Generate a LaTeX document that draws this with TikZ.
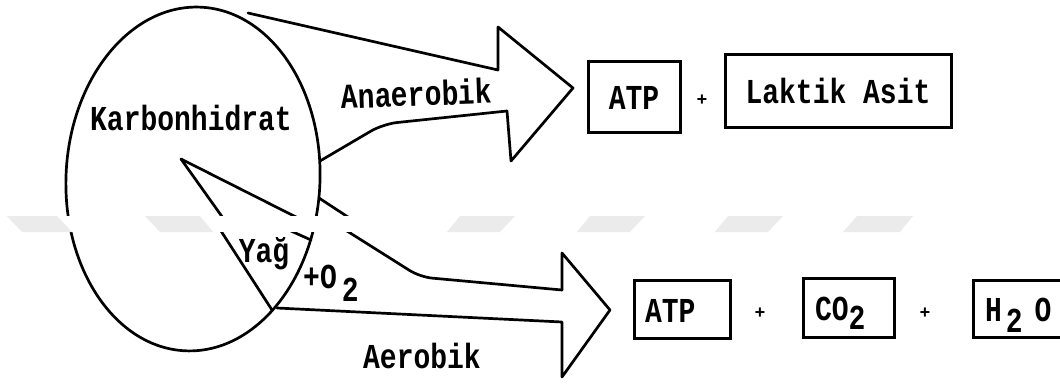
\documentclass[tikz,border=0pt]{standalone}
\usepackage{fontspec}
\usepackage{graphicx}
\setmonofont{Liberation Mono}
\newcommand{\talltxt}[1]{\scalebox{1}[1.25]{#1}}
\begin{document}
\begin{tikzpicture}[x=1pt,y=-1pt,
  ln/.style={line width=2.7pt, line join=round, line cap=round},
  lbl/.style={font=\ttfamily\bfseries\fontsize{28}{30}\selectfont, inner sep=0pt},
  pbox/.style={draw, line width=3pt, font=\ttfamily\bfseries\fontsize{28}{30}\selectfont,
               text height=26pt, text depth=0pt, inner ysep=0pt},
  plusnode/.style={font=\ttfamily\bfseries\fontsize{18}{20}\selectfont, inner sep=0pt},
  wm/.style={fill=black!8}
]
\clip (0,0) rectangle (1060,383);
\fill[white] (0,0) rectangle (1060,383);

% Karbonhidrat oval
\coordinate (ec) at (193,179);
\draw[ln, rotate around={-2.5:(ec)}] (ec) ellipse [x radius=127, y radius=172];

% upper (anaerobic) arrow
\coordinate (u1) at (248,13);
\coordinate (u2) at (498,70);
\coordinate (u3) at (498,27);
\coordinate (u4) at (573,88);
\coordinate (u5) at (511,161);
\coordinate (u6) at (507,111);
\coordinate (u7) at (383,124);
\coordinate (u8) at (320,161);
\draw[ln] (u1) -- (u2) -- (u3) -- (u4) -- (u5) -- (u6);
\draw[ln, rounded corners=14pt] (u6) -- (u7) -- (u8);

% lower (aerobic) arrow
\coordinate (l1) at (319,198);
\coordinate (l1a) at (351,219);
\coordinate (l1b) at (347,231);
\coordinate (l2) at (420,277);
\coordinate (l3) at (562,290);
\coordinate (l4) at (562,253);
\coordinate (l5) at (610,310);
\coordinate (l6) at (562,377);
\coordinate (l7) at (562,322);
\coordinate (l8) at (277,308);
\draw[ln] (l1) -- (l1a) -- (l1b);
\draw[ln, rounded corners=12pt] (l1b) -- (l2) -- (l3);
\draw[ln] (l3) -- (l4) -- (l5) -- (l6) -- (l7) -- (l8);

% Yag wedge
\coordinate (y0) at (181,159);
\draw[ln] (y0) -- (298,218) -- (291,231) -- (311,240);
\draw[ln] (y0) -- (223,218) -- (221,231) -- (272,310);

% labels
\node[lbl, anchor=base] (karb) at (191,130) {\talltxt{Karbonhidrat}};
\node[lbl, anchor=base, rotate=2] (anaer) at (417,106) {\talltxt{Anaerobik}};
\node[lbl, anchor=base] (yag) at (264,262) {\talltxt{Yağ}};
\node[lbl, anchor=base west] (oxy) at (303,288) {\talltxt{+O\hspace{5pt}\raisebox{-11pt}{2}}};
\node[lbl, anchor=base] (aer) at (422,368) {\talltxt{Aerobik}};

% products
\node[pbox, minimum width=92pt, minimum height=71pt] (atpa) at (634,96.5) {\talltxt{ATP}};
\node[plusnode] (pa) at (702,100) {+};
\node[pbox, minimum width=226pt, minimum height=73pt] (lak) at (838,90.5) {\talltxt{Laktik Asit}};

\node[pbox, minimum width=96pt, minimum height=58pt, inner xsep=11pt, text width=74pt, align=left] (atpb) at (682,309) {\talltxt{ATP}};
\node[plusnode] (pb) at (760,313) {+};
\node[pbox, minimum width=91pt, minimum height=59pt, inner xsep=12pt, text width=67pt, align=left] (co) at (848.5,307.5) {\talltxt{CO\raisebox{-7pt}{2}}};
\node[plusnode] (pc) at (925,313) {+};
\node[pbox, minimum width=110pt, minimum height=57pt, inner xsep=12pt, text width=86pt, align=left] (ho) at (1028,308.5) {\talltxt{H\hspace{4pt}\raisebox{-9pt}{2}\hspace{12pt}O}};

% watermark band
\fill[white] (0,216) rectangle (1060,232);
\fill[wm] (7,216) -- (57,216) -- (72,232) -- (22,232) -- cycle;
\fill[wm] (145,216) -- (200,216) -- (213,232) -- (160,232) -- cycle;
\fill[wm] (460,216) -- (515,216) -- (500,232) -- (447,232) -- cycle;
\fill[wm] (590,216) -- (645,216) -- (630,232) -- (577,232) -- cycle;
\fill[wm] (728,216) -- (783,216) -- (768,232) -- (715,232) -- cycle;
\fill[wm] (857,216) -- (913,216) -- (900,232) -- (843,232) -- cycle;
\end{tikzpicture}
\end{document}
